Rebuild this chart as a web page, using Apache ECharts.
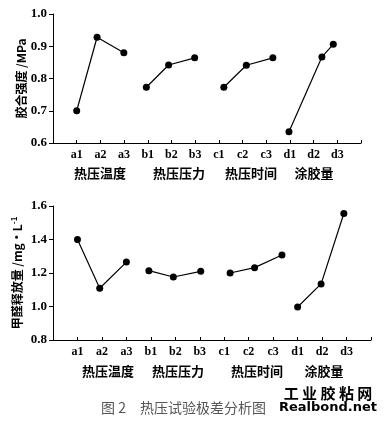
<!DOCTYPE html>
<html><head><meta charset="utf-8">
<script src="https://cdn.jsdelivr.net/npm/echarts@6/dist/echarts.min.js"></script>
<style>html,body{margin:0;padding:0;background:#fff}#c{width:389px;height:421px}</style>
</head><body><div id="c"></div>
<script>
// tick labels on the x axis (positions 1..12)
const tickLabels = ['a1','a2','a3','b1','b2','b3','c1','c2','c3','d1','d2','d3'];
const groupNames = ['热压温度','热压压力','热压时间','涂胶量'];
// x positions of the plotted points (in category units)
const topX = [
  [1.00, 1.86, 2.99],
  [3.94, 4.88, 5.98],
  [7.21, 8.16, 9.28],
  [9.96, 11.35, 11.83]
];
// 胶合强度 /MPa
const topY = [
  [0.700, 0.928, 0.880],
  [0.773, 0.842, 0.864],
  [0.773, 0.841, 0.864],
  [0.635, 0.867, 0.906]
];
const botX = [
  [1.00, 1.91, 3.00],
  [3.92, 4.92, 6.04],
  [7.24, 8.24, 9.36],
  [10.00, 10.96, 11.89]
];
// 甲醛释放量 /mg·L-1
const botY = [
  [1.400, 1.109, 1.265],
  [1.214, 1.176, 1.210],
  [1.200, 1.232, 1.307],
  [0.997, 1.135, 1.555]
];
const topYTicks = {min: 0.6, max: 1.0, interval: 0.1};
const botYTicks = {min: 0.8, max: 1.6, interval: 0.2};

const serif = '"Liberation Serif", "Times New Roman", serif';
const cjk = '"Noto Sans CJK SC", sans-serif';

function xAxis(gi) {
  return {
    type: 'value', gridIndex: gi, min: 0, max: 13, interval: 1,
    axisLine: {lineStyle: {color: '#000', width: 1}},
    axisTick: {inside: true, length: 3, lineStyle: {color: '#000'}},
    splitLine: {show: false},
    axisLabel: {
      margin: 6, color: '#000', fontFamily: serif, fontSize: 12, fontWeight: 'bold',
      formatter: v => (v >= 1 && v <= 12) ? tickLabels[Math.round(v) - 1] : ''
    }
  };
}
function yAxis(gi, t, name, gap) {
  return {
    type: 'value', gridIndex: gi, min: t.min, max: t.max, interval: t.interval,
    axisLine: {show: true, lineStyle: {color: '#000', width: 1}},
    axisTick: {show: true, inside: false, length: 4, lineStyle: {color: '#000'}},
    splitLine: {show: false},
    axisLabel: {margin: 6, color: '#000', fontFamily: serif, fontSize: 13, fontWeight: 'bold',
      formatter: v => v.toFixed(1)},
    name: name, nameLocation: 'middle', nameRotate: 90, nameGap: gap, nameMoveOverlap: false,
    nameTextStyle: {color: '#000', fontFamily: cjk, fontSize: 12, fontWeight: 'bold',
      rich: {sup: {fontSize: 8, fontWeight: 'bold', fontFamily: cjk, verticalAlign: 'top', padding: [0,0,6,0]}}}
  };
}
const series = [];
function addSeries(xs, ys, gi) {
  xs.forEach((g, i) => {
    series.push({
      type: 'line', xAxisIndex: gi, yAxisIndex: gi,
      data: g.map((x, j) => [x, ys[i][j]]),
      symbol: 'circle', symbolSize: 7, showSymbol: true,
      itemStyle: {color: '#000'}, lineStyle: {color: '#000', width: 1.2},
      animation: false, silent: true
    });
  });
}
addSeries(topX, topY, 0);
addSeries(botX, botY, 1);

const topGroupPos = [100, 179, 251, 314];
const botGroupPos = [108, 178, 257, 324];
const graphic = [];
groupNames.forEach((n, i) => {
  graphic.push({type: 'text', x: topGroupPos[i], y: 173, style: {text: n, font: 'bold 13px ' + cjk, fill: '#000', textAlign: 'center', textVerticalAlign: 'middle'}});
  graphic.push({type: 'text', x: botGroupPos[i], y: 371, style: {text: n, font: 'bold 13px ' + cjk, fill: '#000', textAlign: 'center', textVerticalAlign: 'middle'}});
});
graphic.push({type: 'text', x: 101, y: 408, style: {text: '图 2　热压试验极差分析图', font: '14px ' + cjk, fill: '#555', textAlign: 'left', textVerticalAlign: 'middle'}});
graphic.push({type: 'text', x: 328, y: 393, style: {text: '工 业 胶 粘 网', font: 'bold 15px ' + cjk, fill: '#000', textAlign: 'center', textVerticalAlign: 'middle'}});
graphic.push({type: 'text', x: 328, y: 408, style: {text: 'Realbond.net', font: 'bold 13px "DejaVu Sans", sans-serif', fill: '#000', textAlign: 'center', textVerticalAlign: 'middle'}});

const chart = echarts.init(document.getElementById('c'), null, {renderer: 'canvas'});
chart.setOption({
  backgroundColor: '#fff',
  animation: false,
  grid: [
    {left: 53, right: 28, top: 14, height: 129, containLabel: false, outerBoundsMode: 'none'},
    {left: 53, right: 18, top: 206, height: 134, containLabel: false, outerBoundsMode: 'none'}
  ],
  xAxis: [xAxis(0), xAxis(1)],
  yAxis: [
    yAxis(0, topYTicks, '胶合强度 /MPa', 26),
    yAxis(1, botYTicks, '甲醛释放量 /mg·L{sup|-1}', 29)
  ],
  series: series,
  graphic: graphic
});
</script></body></html>
